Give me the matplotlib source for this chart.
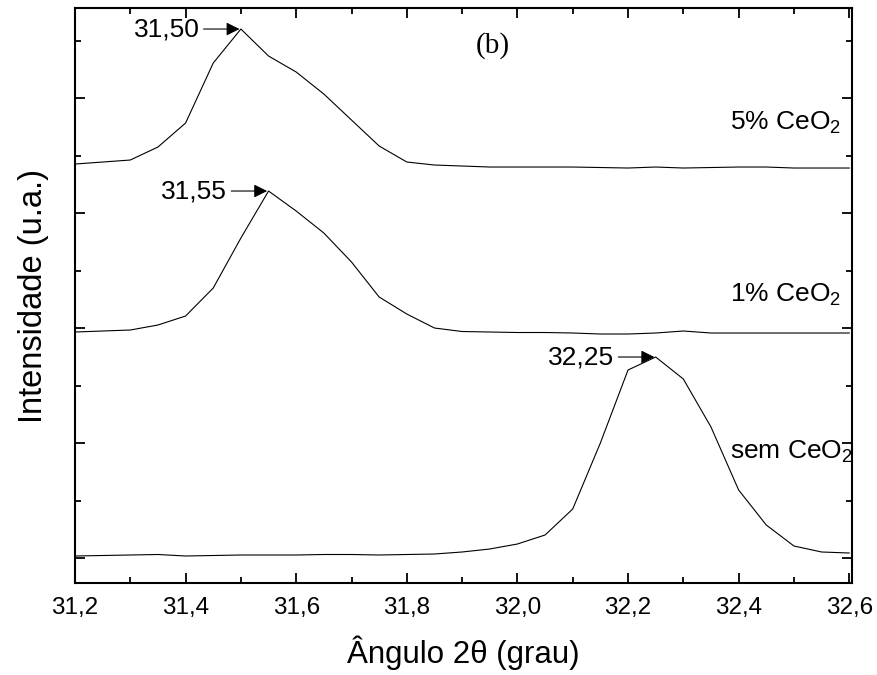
import numpy as np
import matplotlib
matplotlib.use("Agg")
import matplotlib.pyplot as plt
from matplotlib.ticker import MultipleLocator, FuncFormatter

plt.rcParams['font.family'] = ['Liberation Sans', 'DejaVu Sans']
plt.rcParams['mathtext.fontset'] = 'custom'
plt.rcParams['mathtext.rm'] = 'Liberation Sans'

# angulo 2theta (grau), passo de 0,05
angulo = [31.20, 31.25, 31.30, 31.35, 31.40, 31.45, 31.50, 31.55, 31.60, 31.65,
          31.70, 31.75, 31.80, 31.85, 31.90, 31.95, 32.00, 32.05, 32.10, 32.15,
          32.20, 32.25, 32.30, 32.35, 32.40, 32.45, 32.50, 32.55, 32.60]

# intensidades (u.a.) ja com deslocamento vertical
ceo2_5 = [419, 421, 423, 436, 460, 520, 554, 527, 511, 489,
          463, 437, 421, 418, 417, 416, 416, 416, 416, 415.5,
          415, 416, 415, 415.5, 416, 416, 415, 415, 415]
ceo2_1 = [251, 252, 253, 258, 267, 295, 345, 392, 372, 350,
          321, 286, 269, 255, 251.5, 251, 250.5, 250.5, 250, 249,
          249, 250, 252, 250, 250, 250, 250, 250, 250]
sem_ceo2 = [27, 27.5, 28, 28.5, 27, 27.5, 28, 28, 28, 28.5,
            28.5, 28, 28.5, 29, 31, 34, 39, 48, 74, 140,
            213, 226, 204, 156, 93, 58, 37, 31, 30]

picos = [(31.50, 554, '31,50'), (31.55, 392, '31,55'), (32.25, 226, '32,25')]
rotulos = [(416 + 44, '5% CeO$_2$'), (250 + 38, '1% CeO$_2$'), (27 + 104, 'sem CeO$_2$')]

fig = plt.figure(figsize=(8.77, 6.75), dpi=100)
ax = fig.add_axes([0.0855, 0.1363, 0.886, 0.8518])

for serie in [ceo2_5, ceo2_1, sem_ceo2]:
    ax.plot(angulo, serie, color='black', lw=0.8)

for x, y, txt in picos:
    ax.annotate(txt, xy=(x, y), xytext=(x - 0.075, y), ha='right', va='center',
                fontsize=19,
                arrowprops=dict(arrowstyle='-|>', color='black', lw=0.8,
                                mutation_scale=20, shrinkA=1, shrinkB=1))

ax.text(32.585, rotulos[0][0], rotulos[0][1], ha='right', va='center', fontsize=19)
ax.text(32.585, rotulos[1][0], rotulos[1][1], ha='right', va='center', fontsize=19)
ax.text(32.607, rotulos[2][0], rotulos[2][1], ha='right', va='center', fontsize=19)

ax.text(31.955, 537, '(b)', family=['Liberation Serif', 'DejaVu Serif'],
        fontsize=21, ha='center', va='center')

ax.set_xlim(31.2, 32.605)
ax.set_ylim(0, 575)
ax.xaxis.set_major_locator(MultipleLocator(0.2))
ax.xaxis.set_minor_locator(MultipleLocator(0.1))
ax.xaxis.set_major_formatter(FuncFormatter(lambda v, p: f'{v:.1f}'.replace('.', ',')))
ax.set_yticks([25, 140, 255, 370, 485])
ax.set_yticks([82.5, 197.5, 312.5, 427.5, 542.5], minor=True)
ax.set_yticklabels([])

ax.tick_params(which='both', direction='in', top=True, right=True, width=1.3)
ax.tick_params(which='major', length=7)
ax.tick_params(which='minor', length=4)
ax.tick_params(axis='x', labelsize=17.5, pad=10)
for s in ax.spines.values():
    s.set_linewidth(1.5)

ax.set_xlabel('Ângulo 2θ (grau)', fontsize=22.5, labelpad=12)
ax.set_ylabel('Intensidade (u.a.)', fontsize=23.5, labelpad=15)

fig.savefig('out.png', dpi=100)
